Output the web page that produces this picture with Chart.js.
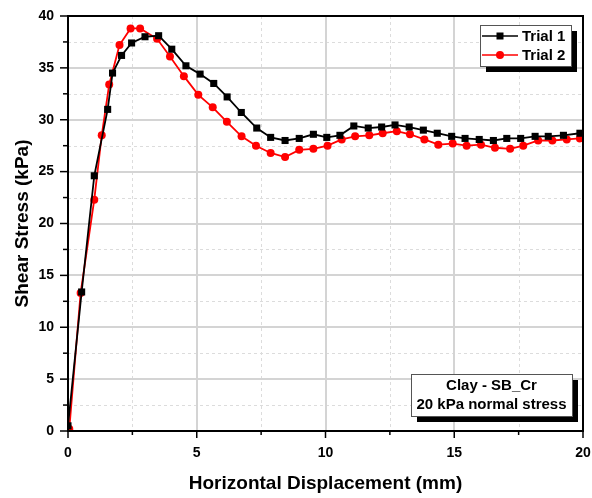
<!DOCTYPE html>
<html>
<head>
<meta charset="utf-8">
<script src="https://cdn.jsdelivr.net/npm/chart.js@4/dist/chart.umd.min.js"></script>
<style>
  html, body { margin: 0; padding: 0; background: #fff; }
  #wrap { width: 592px; height: 498px; }
</style>
</head>
<body>
<div id="wrap"><canvas id="c" width="592" height="498"></canvas></div>
<script>
// data (x: mm, y: kPa)
const trial1X = [0, 0.53, 1.02, 1.54, 1.73, 2.08, 2.47, 2.99, 3.52, 4.03, 4.58, 5.13, 5.66, 6.18, 6.73, 7.33, 7.87, 8.43, 8.98, 9.53, 10.05, 10.56, 11.1, 11.66, 12.18, 12.7, 13.25, 13.8, 14.34, 14.9, 15.42, 15.97, 16.52, 17.04, 17.58, 18.14, 18.65, 19.24, 19.88];
const trial1Y = [0.5, 13.4, 24.6, 31.0, 34.5, 36.2, 37.4, 38.0, 38.1, 36.8, 35.2, 34.4, 33.5, 32.2, 30.7, 29.2, 28.3, 28.0, 28.2, 28.6, 28.3, 28.5, 29.4, 29.2, 29.3, 29.5, 29.3, 29.0, 28.7, 28.4, 28.2, 28.1, 28.0, 28.2, 28.2, 28.4, 28.4, 28.5, 28.7];
const trial2X = [0.05, 0.49, 1.02, 1.31, 1.6, 2.0, 2.43, 2.8, 3.46, 3.96, 4.5, 5.06, 5.62, 6.17, 6.74, 7.3, 7.87, 8.43, 8.98, 9.53, 10.08, 10.63, 11.15, 11.7, 12.22, 12.77, 13.28, 13.84, 14.38, 14.94, 15.48, 16.04, 16.58, 17.17, 17.68, 18.26, 18.81, 19.37, 19.88];
const trial2Y = [0.2, 13.3, 22.3, 28.5, 33.4, 37.2, 38.8, 38.8, 37.8, 36.1, 34.2, 32.4, 31.2, 29.8, 28.4, 27.5, 26.8, 26.4, 27.1, 27.2, 27.5, 28.1, 28.4, 28.5, 28.7, 28.9, 28.6, 28.1, 27.6, 27.7, 27.5, 27.6, 27.3, 27.2, 27.5, 28.0, 28.0, 28.1, 28.2];
const seriesLabels = ['Trial 1', 'Trial 2'];
const noteLines = ['Clay - SB_Cr', '20 kPa normal stress'];

const FONT = "'Liberation Sans', Arial, sans-serif";
const toPoints = (xs, ys) => xs.map((x, i) => ({ x, y: ys[i] }));

// fixed axis box, no automatic label overhang padding
const fixBox = (size) => (s) => {
  if (s.isHorizontal()) s.height = size; else s.width = size;
  s.paddingLeft = s.paddingRight = s.paddingTop = s.paddingBottom = 0;
};

// grid, frame, ticks, legend and note box
const decor = {
  id: 'decor',
  beforeDatasetsDraw(chart) {
    const { ctx, chartArea: a, scales: { x, y } } = chart;
    ctx.save();
    // minor dashed
    ctx.strokeStyle = '#dcdcdc';
    ctx.lineWidth = 1;
    ctx.setLineDash([3, 3]);
    for (let v = 2.5; v < 20; v += 5) {
      const px = Math.round(x.getPixelForValue(v)) + 0.5;
      ctx.beginPath(); ctx.moveTo(px, a.top); ctx.lineTo(px, a.bottom); ctx.stroke();
    }
    for (let v = 2.5; v < 40; v += 5) {
      const py = Math.round(y.getPixelForValue(v)) + 0.5;
      ctx.beginPath(); ctx.moveTo(a.left, py); ctx.lineTo(a.right, py); ctx.stroke();
    }
    // major solid
    ctx.setLineDash([]);
    ctx.strokeStyle = '#d4d4d4';
    ctx.lineWidth = 2;
    for (let v = 5; v < 20; v += 5) {
      const px = Math.round(x.getPixelForValue(v));
      ctx.beginPath(); ctx.moveTo(px, a.top); ctx.lineTo(px, a.bottom); ctx.stroke();
    }
    for (let v = 5; v < 40; v += 5) {
      const py = Math.round(y.getPixelForValue(v));
      ctx.beginPath(); ctx.moveTo(a.left, py); ctx.lineTo(a.right, py); ctx.stroke();
    }
    ctx.restore();
  },
  afterDatasetsDraw(chart) {
    const { ctx, chartArea: a, scales: { x, y } } = chart;
    ctx.save();
    ctx.strokeStyle = '#000';
    ctx.lineWidth = 2;
    ctx.strokeRect(a.left, a.top, a.right - a.left, a.bottom - a.top);
    // tick marks, outward
    ctx.lineWidth = 1.5;
    for (let v = 0; v <= 20; v += 2.5) {
      const px = x.getPixelForValue(v);
      const len = v % 5 === 0 ? 7 : 4;
      ctx.beginPath(); ctx.moveTo(px, a.bottom); ctx.lineTo(px, a.bottom + len); ctx.stroke();
    }
    for (let v = 0; v <= 40; v += 2.5) {
      const py = y.getPixelForValue(v);
      const len = v % 5 === 0 ? 8 : 5;
      ctx.beginPath(); ctx.moveTo(a.left, py); ctx.lineTo(a.left - len, py); ctx.stroke();
    }

    const shadowBox = (l, t, w, h) => {
      ctx.fillStyle = '#000';
      ctx.fillRect(l + 6, t + 6, w, h);
      ctx.fillStyle = '#fff';
      ctx.fillRect(l, t, w, h);
      ctx.strokeStyle = '#555';
      ctx.lineWidth = 1;
      ctx.strokeRect(l + 0.5, t + 0.5, w, h);
    };

    // legend
    shadowBox(480, 25, 91, 41);
    ctx.font = 'bold 15px ' + FONT;
    ctx.textBaseline = 'middle';
    ctx.textAlign = 'left';
    chart.data.datasets.forEach((ds, i) => {
      const ly = 36 + i * 19;
      ctx.strokeStyle = ds.borderColor;
      ctx.lineWidth = 1.5;
      ctx.beginPath(); ctx.moveTo(482, ly); ctx.lineTo(518, ly); ctx.stroke();
      ctx.fillStyle = ds.borderColor;
      if (ds.pointStyle === 'rect') {
        ctx.fillRect(496.5, ly - 3.5, 7, 7);
      } else {
        ctx.beginPath(); ctx.arc(500, ly, 4, 0, Math.PI * 2); ctx.fill();
      }
      ctx.fillStyle = '#000';
      ctx.fillText(ds.label, 522, ly + 1);
    });

    // note box
    shadowBox(411, 374, 161, 42);
    ctx.fillStyle = '#000';
    ctx.textAlign = 'center';
    ctx.font = 'bold 15px ' + FONT;
    noteLines.forEach((t, i) => ctx.fillText(t, 491.5, 386 + i * 19));
    ctx.restore();
  }
};

new Chart(document.getElementById('c'), {
  type: 'line',
  data: {
    datasets: [
      {
        label: seriesLabels[0],
        data: toPoints(trial1X, trial1Y),
        borderColor: '#000000',
        backgroundColor: '#000000',
        borderWidth: 1.8,
        pointStyle: 'rect',
        pointRadius: 5,
        pointBorderWidth: 0,
        tension: 0
      },
      {
        label: seriesLabels[1],
        data: toPoints(trial2X, trial2Y),
        borderColor: '#ff0000',
        backgroundColor: '#ff0000',
        borderWidth: 1.8,
        pointStyle: 'circle',
        pointRadius: 4,
        pointBorderWidth: 0,
        tension: 0
      }
    ]
  },
  options: {
    responsive: false,
    animation: false,
    layout: { padding: { top: 16, right: 9, left: 0, bottom: 0 } },
    plugins: { legend: { display: false }, tooltip: { enabled: false } },
    scales: {
      x: {
        type: 'linear',
        min: 0,
        max: 20,
        grid: { display: false },
        border: { display: false },
        afterFit: fixBox(67),
        ticks: { stepSize: 5, padding: 6, color: '#000', font: { family: FONT, size: 14, weight: 'bold' } },
        title: { display: true, text: 'Horizontal Displacement (mm)', color: '#000', padding: { bottom: 3 }, font: { family: FONT, size: 19, weight: 'bold' } }
      },
      y: {
        min: 0,
        max: 40,
        grid: { display: false },
        border: { display: false },
        afterFit: fixBox(68),
        ticks: { stepSize: 5, padding: 6, color: '#000', font: { family: FONT, size: 14, weight: 'bold' } },
        title: { display: true, text: 'Shear Stress (kPa)', color: '#000', padding: { top: 11 }, font: { family: FONT, size: 19, weight: 'bold' } }
      }
    }
  },
  plugins: [decor]
});
</script>
</body>
</html>
